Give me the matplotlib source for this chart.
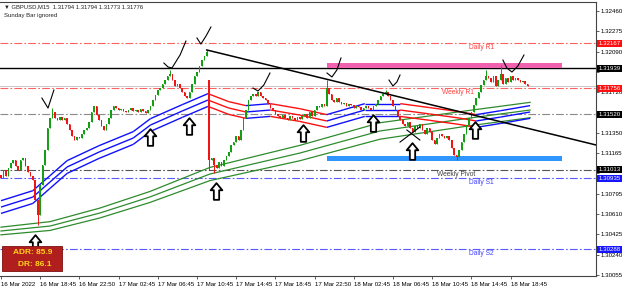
import numpy as np
import matplotlib.pyplot as plt
from matplotlib.path import Path
from matplotlib.patches import Rectangle

plt.rcParams['font.family'] = ['Liberation Sans', 'DejaVu Sans']

# M15 closes, one per bar
closes = [1.30938, 1.31011, 1.30957, 1.31030, 1.31075, 1.31102, 1.31048, 1.31011, 1.31102, 1.31121,
          1.31048, 1.30993, 1.30957, 1.30920, 1.30738, 1.30601, 1.30875, 1.31057, 1.31194, 1.31394,
          1.31485, 1.31540, 1.31485, 1.31467, 1.31494, 1.31467, 1.31485, 1.31430, 1.31376, 1.31321,
          1.31285, 1.31312, 1.31303, 1.31339, 1.31376, 1.31394, 1.31449, 1.31540, 1.31594, 1.31512,
          1.31467, 1.31412, 1.31376, 1.31430, 1.31485, 1.31558, 1.31594, 1.31576, 1.31558, 1.31567,
          1.31549, 1.31540, 1.31558, 1.31576, 1.31549, 1.31558, 1.31540, 1.31567, 1.31549, 1.31531,
          1.31558, 1.31594, 1.31649, 1.31695, 1.31740, 1.31758, 1.31795, 1.31831, 1.31868, 1.31886,
          1.31831, 1.31777, 1.31795, 1.31758, 1.31722, 1.31685, 1.31667, 1.31722, 1.31795, 1.31868,
          1.31904, 1.31959, 1.32013, 1.32050, 1.32086, 1.31102, 1.31121, 1.31057, 1.31030, 1.31084,
          1.31048, 1.31102, 1.31139, 1.31175, 1.31239, 1.31266, 1.31321, 1.31285, 1.31376, 1.31485,
          1.31558, 1.31649, 1.31685, 1.31704, 1.31685, 1.31722, 1.31685, 1.31667, 1.31649, 1.31613,
          1.31576, 1.31558, 1.31522, 1.31503, 1.31485, 1.31512, 1.31485, 1.31467, 1.31503, 1.31485,
          1.31467, 1.31494, 1.31476, 1.31503, 1.31522, 1.31485, 1.31540, 1.31503, 1.31558, 1.31594,
          1.31585, 1.31613, 1.31594, 1.31758, 1.31704, 1.31649, 1.31631, 1.31667, 1.31631, 1.31613,
          1.31622, 1.31594, 1.31613, 1.31603, 1.31576, 1.31594, 1.31585, 1.31558, 1.31576, 1.31594,
          1.31576, 1.31558, 1.31594, 1.31613, 1.31649, 1.31685, 1.31704, 1.31722, 1.31685, 1.31649,
          1.31594, 1.31558, 1.31503, 1.31467, 1.31430, 1.31412, 1.31449, 1.31394, 1.31358, 1.31412,
          1.31394, 1.31430, 1.31376, 1.31339, 1.31394, 1.31358, 1.31285, 1.31248, 1.31303, 1.31339,
          1.31321, 1.31303, 1.31321, 1.31285, 1.31212, 1.31148, 1.31130, 1.31194, 1.31266, 1.31339,
          1.31421, 1.31485, 1.31540, 1.31603, 1.31667, 1.31722, 1.31786, 1.31831, 1.31868, 1.31849,
          1.31813, 1.31868, 1.31777, 1.31831, 1.31886, 1.31795, 1.31849, 1.31813, 1.31868, 1.31831,
          1.31849, 1.31831, 1.31813, 1.31822, 1.31795, 1.31776]
first_open = 1.30966
open_gaps = {85: 1.31831}
spike_highs = {21: 1.31576, 69: 1.31922, 84: 1.32105, 133: 1.31831, 157: 1.31740, 198: 1.31922, 204: 1.31968}
spike_lows = {15: 1.30510, 85: 1.31011, 87: 1.30984, 186: 1.31102}

# colour-changing MA band (blue rising, red falling)
band_bar = [0, 13, 20, 27, 40, 54, 61, 74, 84.5, 93, 100, 110, 122, 133, 140, 148.5, 163, 175, 187, 194, 204, 216]
band_mid = [1.30674, 1.30765, 1.30902, 1.31039, 1.31175, 1.31303, 1.31421, 1.31549, 1.31649, 1.31576, 1.31540,
            1.31558, 1.31512, 1.31458, 1.31503, 1.31558, 1.31558, 1.31522, 1.31485, 1.31458, 1.31494, 1.31540]
band_rising = [True] * 8 + [False, False] + [True] + [False, False] + [True, True, True] + [False, False, False] + [True, True, True]

# slow green band
green_bar = [0, 20, 40.4, 60.8, 85.3, 122, 154.7, 191.4, 216]
green_mid = [1.30456, 1.30501, 1.30620, 1.30766, 1.30975, 1.31166, 1.31367, 1.31485, 1.31558]
green_gap = [0.00035, 0.0004, 0.00045, 0.0005, 0.0006, 0.0007, 0.00075, 0.0007, 0.0007]

# horizontal levels
levels = [1.32167, 1.31939, 1.31756, 1.31520, 1.31013, 1.30935, 1.30288]
level_colors = ['#ff6060', 'black', '#ff6060', '#8a8a8a', '#555555', '#5a5aff', '#5a5aff']
box_colors = ['#ff1010', 'black', '#ff1010', 'black', 'black', '#1515ff', '#1515ff']
bid = 1.31776

pivot_names = ['Daily R1', 'Weekly R1', 'Weekly Pivot', 'Daily S1', 'Daily S2']
pivot_prices = [1.32167, 1.31756, 1.31013, 1.30935, 1.30288]
pivot_bars = [191, 180, 178, 191, 191]
pivot_colors = ['#ff4040', '#ff4040', '#404040', '#4040ff', '#4040ff']

trend_bars = [84, 243]
trend_prices = [1.32105, 1.31239]
pink_zone = (133, 229, 1.31941, 1.31986)
blue_zone = (133, 229, 1.31093, 1.31139)

arrow_bars = [13.9, 60.8, 76.7, 87.8, 123.3, 151.8, 167.8, 193.5]
arrow_prices = [1.30346, 1.31312, 1.31412, 1.30820, 1.31348, 1.31440, 1.31184, 1.31376]

# freehand ticks drawn on the chart
scribbles = [
    ([16.7, 19.2, 21.6], [1.31667, 1.31576, 1.31740]),
    ([66.5, 68.2, 69.8, 73.1, 75.5], [1.31986, 1.31950, 1.31941, 1.32059, 1.32186]),
    ([80, 81.6, 83.7, 85.7], [1.32214, 1.32159, 1.32232, 1.32314]),
    ([102.9, 104.9, 107.3, 109.8], [1.31758, 1.31731, 1.31786, 1.31895]),
    ([133.1, 135.1, 137.1, 138.8], [1.31895, 1.31859, 1.31922, 1.32032]),
    ([158.4, 160, 161.6, 162.9], [1.31831, 1.31777, 1.31813, 1.31877]),
    ([204.9, 206.5, 208.6, 211, 213.5], [1.32013, 1.31941, 1.31904, 1.31959, 1.32059]),
    ([162.9, 171], [1.31266, 1.31403]),
    ([165.7, 171], [1.31376, 1.31285]),
]

date_labels = ['16 Mar 2022', '16 Mar 18:45', '16 Mar 22:50', '17 Mar 02:45', '17 Mar 06:45',
               '17 Mar 10:45', '17 Mar 14:45', '17 Mar 18:45', '17 Mar 22:50', '18 Mar 02:45',
               '18 Mar 06:45', '18 Mar 10:45', '18 Mar 14:45', '18 Mar 18:45']
price_ticks = [1.32460, 1.32275, 1.32090, 1.31905, 1.31720, 1.31535, 1.31350, 1.31165,
               1.30980, 1.30795, 1.30610, 1.30425, 1.30240, 1.30055]
hidden_ticks = [1.31905, 1.31535, 1.30980]  # sit under the level boxes

fig = plt.figure(figsize=(6.25, 2.92), dpi=100)
ax = fig.add_axes([0.0, 16 / 292, 596 / 625, 274 / 292])
ax.set_xlim(-0.4, 242.9)
ax.set_ylim(1.30046, 1.32542)

# levels
for p, c in zip(levels, level_colors):
    ls = '-' if c == 'black' else (0, (7, 2, 1.5, 2))
    ax.axhline(p, color=c, lw=0.8 if c != 'black' else 1.0, ls=ls, zorder=1)
ax.axhline(bid, color='#c8c8c8', lw=0.7, zorder=1)

for name, p, b, c in zip(pivot_names, pivot_prices, pivot_bars, pivot_colors):
    ax.text(b, p - 0.00006, name, color=c, fontsize=4.8, va='top', ha='left', zorder=2)

# zones
for b0, b1, lo, hi, col in [(*pink_zone, '#f062b0'), (*blue_zone, '#2f95ff')]:
    ax.add_patch(Rectangle((b0, lo), b1 - b0, hi - lo, color=col, lw=0, zorder=2))

# green band
gm = np.array(green_mid)
gg = np.array(green_gap)
for k in (-1, 0, 1):
    ax.plot(green_bar, gm + k * gg, color='#2e8b2e', lw=0.9, zorder=3)

# coloured band
for i in range(len(band_bar) - 1):
    col = '#1010ff' if band_rising[i] else '#ff1010'
    for off in (-0.00058, 0, 0.00058):
        ax.plot(band_bar[i:i + 2], [band_mid[i] + off, band_mid[i + 1] + off], color=col, lw=1.0,
                zorder=3, solid_capstyle='butt')

# candles
x = np.arange(len(closes))
c = np.array(closes)
o = np.concatenate([[first_open], c[:-1]])
for k, v in open_gaps.items():
    o[k] = v
hi = np.maximum(o, c)
lo = np.minimum(o, c)
for k, v in spike_highs.items():
    hi[k] = v
for k, v in spike_lows.items():
    lo[k] = v
cols = np.where(c >= o, '#12a012', '#f01414')
ax.vlines(x, lo, hi, colors=cols, lw=0.7, zorder=4)
body = np.where(np.abs(c - o) < 0.00004, 0.00004, c - o)
ax.bar(x, body, bottom=o, width=0.65, color=cols, lw=0, zorder=4)

# trend line
ax.plot(trend_bars, trend_prices, color='black', lw=1.1, zorder=5)

# hand drawn ticks
for bx, py in scribbles:
    ax.plot(bx, py, color='black', lw=0.8, zorder=6)

# arrows
arrow = Path([(0, 1), (-0.7, 0.15), (-0.32, 0.15), (-0.32, -1), (0.32, -1), (0.32, 0.15), (0.7, 0.15), (0, 1)],
             [Path.MOVETO] + [Path.LINETO] * 6 + [Path.CLOSEPOLY])
ax.plot(arrow_bars, arrow_prices, ls='none', marker=arrow, markersize=12, markerfacecolor='white',
        markeredgecolor='black', markeredgewidth=1.3, zorder=7)

# axes styling
ax.yaxis.tick_right()
ax.set_yticks(price_ticks)
ax.set_yticklabels(['' if p in hidden_ticks else f'{p:.5f}' for p in price_ticks])
ax.set_xticks(np.arange(0, 16 * len(date_labels), 16))
ax.set_xticklabels(date_labels)
for lab in ax.get_xticklabels():
    lab.set_horizontalalignment('left')
ax.tick_params(axis='both', labelsize=4.4, length=2, width=0.6, color='#444444', pad=1.5)
ax.tick_params(axis='x', pad=2)
ax.spines['left'].set_visible(False)
for s in ('top', 'right', 'bottom'):
    ax.spines[s].set_color('#444444')
    ax.spines[s].set_linewidth(0.8)

for p, bc in zip(levels, box_colors):
    ax.text(1.004, p, f'{p:.5f}', transform=ax.get_yaxis_transform(), ha='left', va='center',
            fontsize=4.4, color='white', clip_on=False, zorder=8,
            bbox=dict(boxstyle='square,pad=0.18', fc=bc, ec='none'))

# header text
fig.text(4 / 625, 1 - 7 / 292, '\u25bc GBPUSD,M15  1.31794 1.31794 1.31773 1.31776', fontsize=4.2,
         va='center', ha='left', color='#222222')
fig.text(4 / 625, 1 - 16 / 292, 'Sunday Bar ignored', fontsize=4.3, va='center', ha='left', color='#222222')

# ADR box
fig.patches.append(Rectangle((2 / 625, 21 / 292), 60 / 625, 25 / 292, transform=fig.transFigure,
                             facecolor='#b01e1e', edgecolor='#7a1010', lw=0.6, zorder=10))
fig.text(52 / 625, 1 - 253 / 292, 'ADR: 85.9', fontsize=6, fontweight='bold', color='#ffd21a',
         ha='right', va='center', zorder=11)
fig.text(52 / 625, 1 - 265 / 292, 'DR: 86.1', fontsize=6, fontweight='bold', color='#ffd21a',
         ha='right', va='center', zorder=11)

fig.savefig('out.png', dpi=100, facecolor='white')
